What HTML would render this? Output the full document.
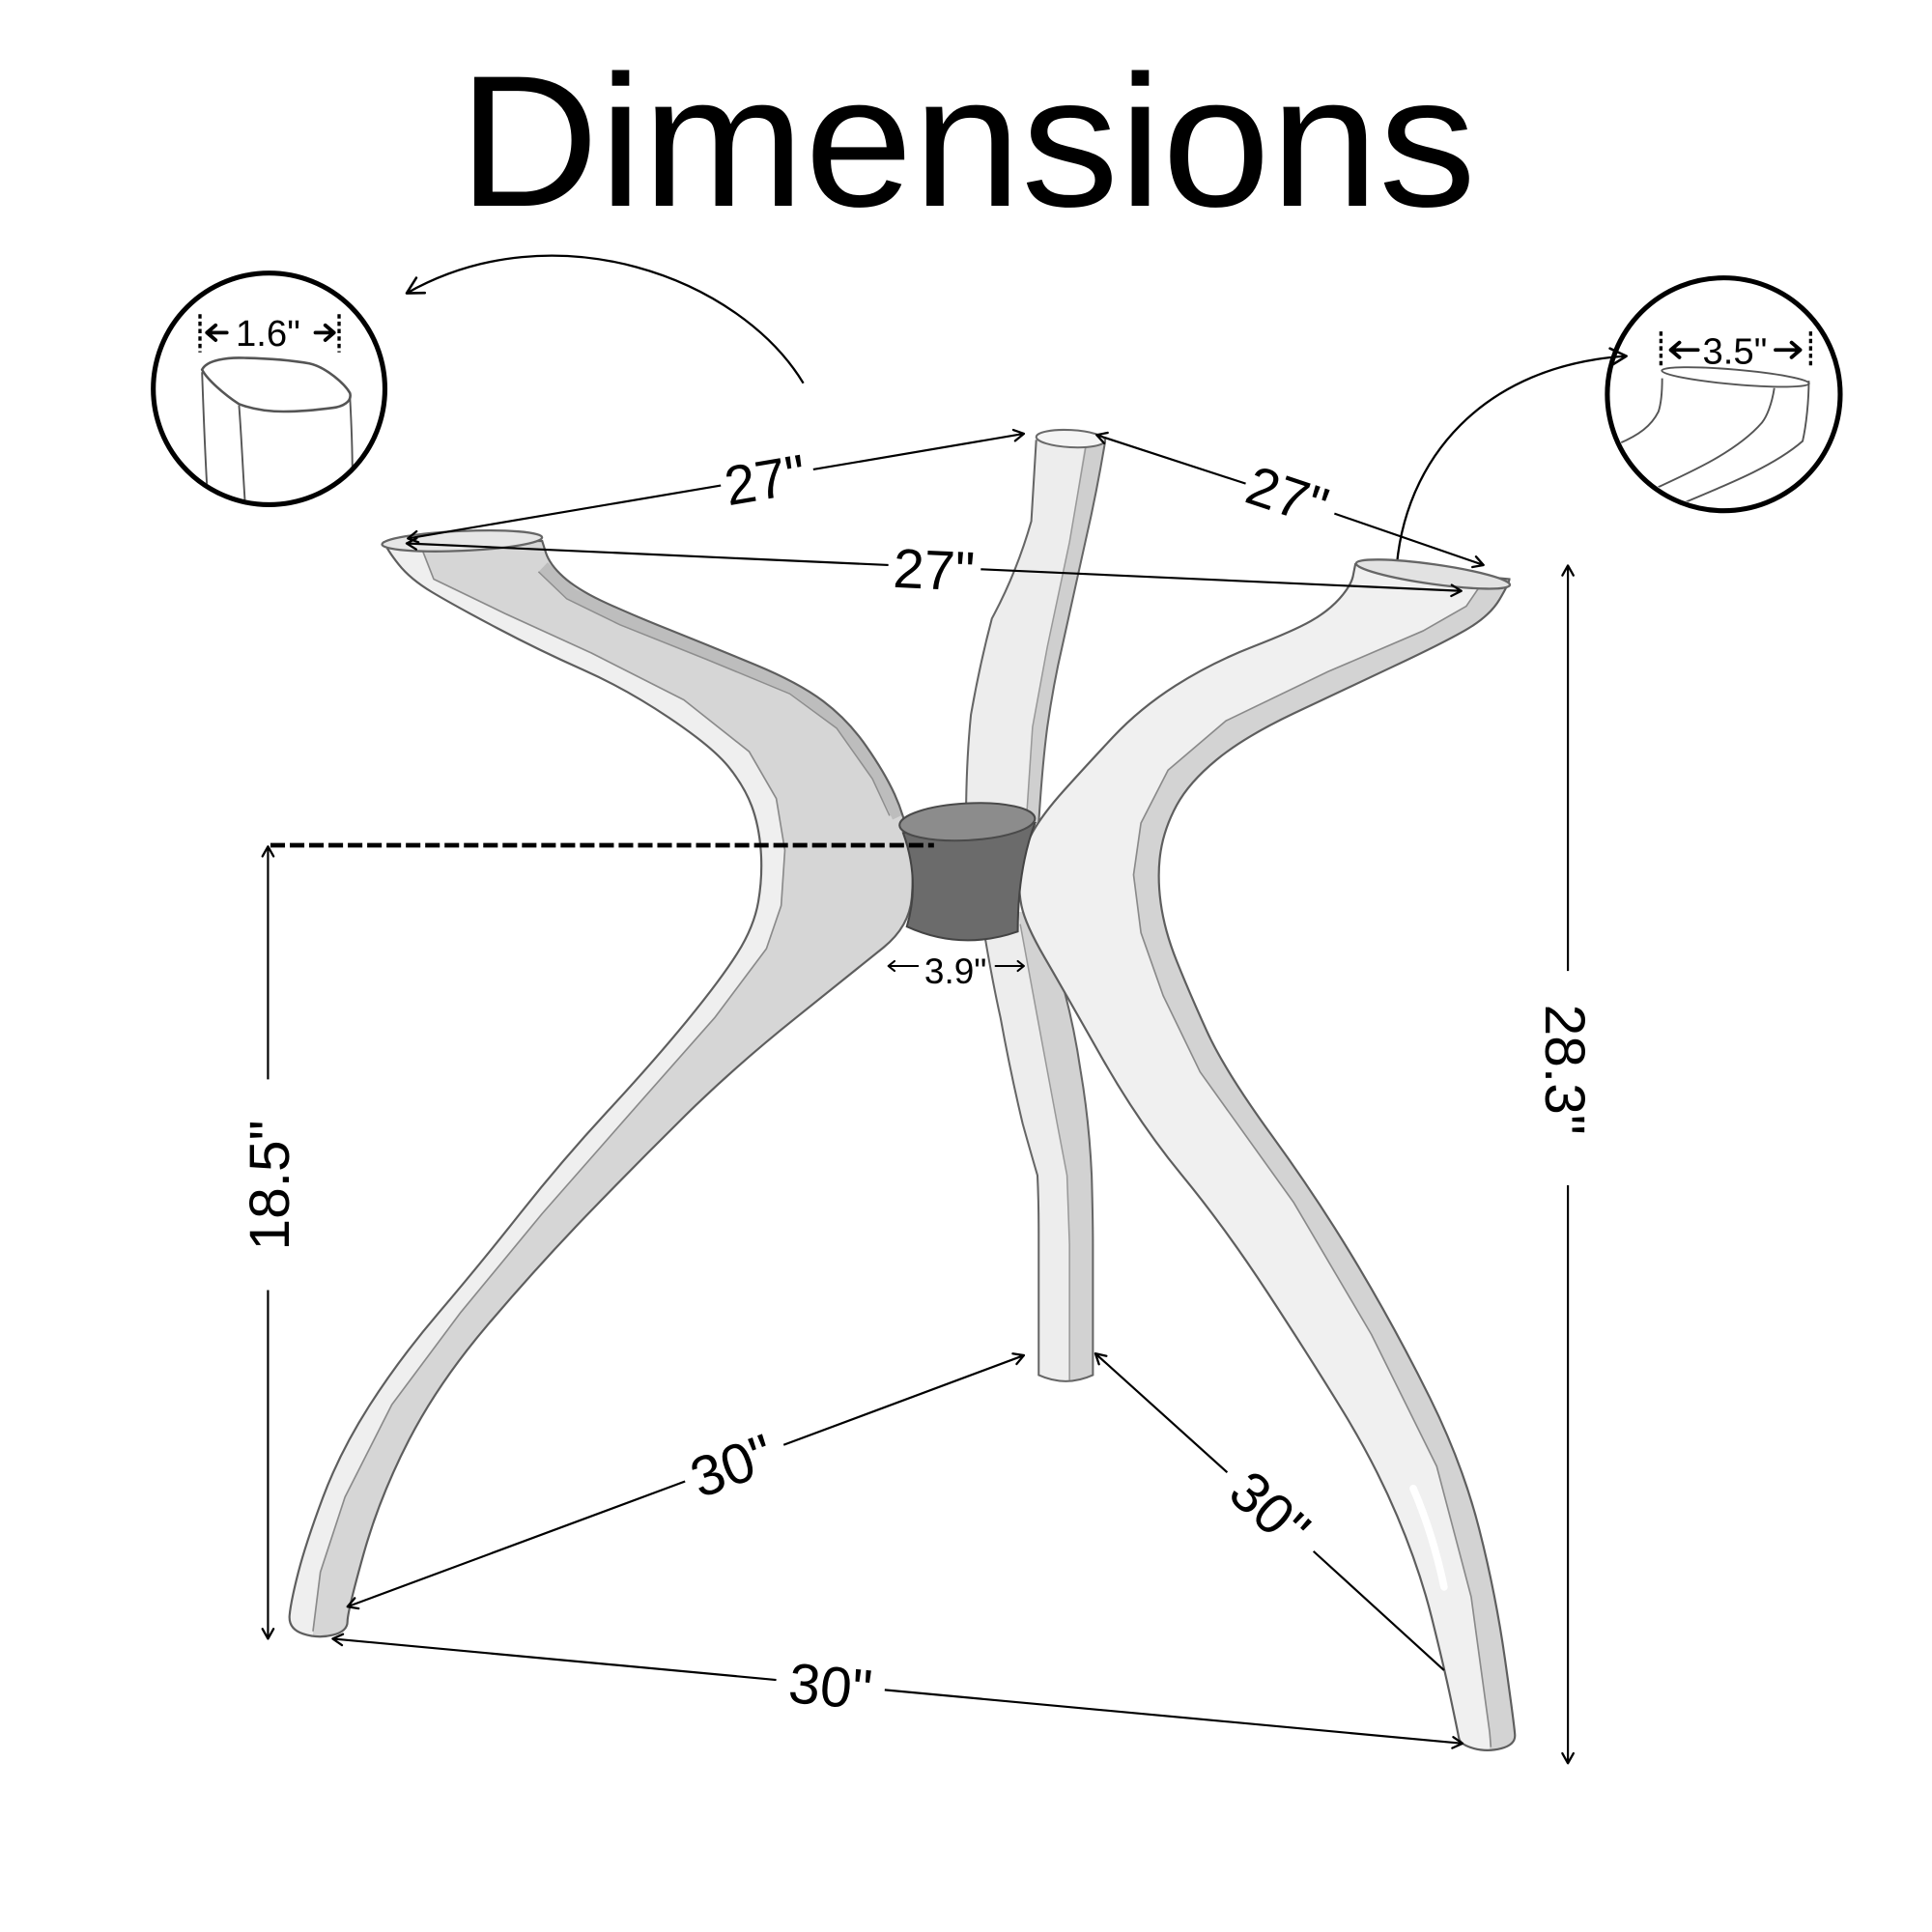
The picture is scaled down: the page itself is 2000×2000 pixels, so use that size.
<!DOCTYPE html>
<html><head><meta charset="utf-8"><style>html,body{margin:0;padding:0;background:#fff}svg{display:block}</style></head>
<body>
<svg xmlns="http://www.w3.org/2000/svg" width="2000" height="2000" viewBox="0 0 1568 1568" font-family="'Liberation Sans', Arial, sans-serif">
<defs>
  <marker id="a" viewBox="-10 -6 12 12" refX="0" refY="0" markerWidth="12" markerHeight="12" markerUnits="userSpaceOnUse" orient="auto" overflow="visible">
    <path d="M-8,-4.5 L0,0 L-8,4.5" fill="none" stroke="#000" stroke-width="1.8" stroke-linecap="round" stroke-linejoin="round"/>
  </marker>
  <marker id="b" viewBox="-16 -9 18 18" refX="0" refY="0" markerWidth="18" markerHeight="18" markerUnits="userSpaceOnUse" orient="auto" overflow="visible">
    <path d="M-13,-7 L0,0 L-13,7" fill="none" stroke="#000" stroke-width="2" stroke-linecap="round" stroke-linejoin="round"/>
  </marker>
  <path id="LP" d="M312,440 L440,439 L443,448.5 Q446,458 457,468 Q468,478 488,487.5 Q508,497 543,511 Q578,525 613,539.5 Q648,554 668,569 Q688,584 703,605.5 Q718,627 726,644.5 Q734,662 738,683.5 Q742,705 740,728.5 Q738,752 717,769 Q696,786 646,826 Q596,866 556,905.5 Q516,945 476,986.5 Q436,1028 396,1075 Q356,1122 332,1168.5 Q308,1215 295,1261.5 Q282,1308 282,1316 Q282,1324 270,1327 Q258,1330 246,1326 Q234,1322 235,1311 Q236,1300 242,1276.5 Q248,1253 262,1215.5 Q276,1178 300,1140.5 Q324,1103 356,1065.5 Q388,1028 422,985 Q456,942 493,902 Q530,862 557.5,828.5 Q585,795 598.5,773.5 Q612,752 615.5,731.5 Q619,711 617.5,690.5 Q616,670 610,654 Q604,638 591,622 Q578,606 543,582.5 Q508,559 473,543.5 Q438,528 403,509.5 Q368,491 350.5,480.5 Q333,470 323.5,458 Q314,446 312,440 Z"/>
  <path id="RP" d="M1100,458 L1098,468 Q1096,476 1087,486 Q1078,496 1064,504 Q1050,512 1016.5,525 Q983,538 954,556.5 Q925,575 903,598.5 Q881,622 863.5,641.5 Q846,661 838,675.5 Q830,690 828,705 Q826,720 829,735 Q832,750 848,777.5 Q864,805 894,858 Q924,911 959,953.5 Q994,996 1029,1049.5 Q1064,1103 1090,1145.5 Q1116,1188 1134,1230.5 Q1152,1273 1162,1313 Q1172,1353 1177.5,1379 Q1183,1405 1184,1410.5 Q1185,1416 1196,1419 Q1207,1422 1218.5,1419 Q1230,1416 1229.5,1408 Q1229,1400 1221.5,1347 Q1214,1294 1200.5,1241 Q1187,1188 1160.5,1134.5 Q1134,1081 1102.5,1028 Q1071,975 1032.5,922 Q994,869 979.5,837 Q965,805 955,780 Q945,755 942,732.5 Q939,710 942,691 Q945,672 955,653.5 Q965,635 987.5,616.5 Q1010,598 1050,579 Q1090,560 1130.5,541 Q1171,522 1190,511 Q1209,500 1217,486.5 Q1225,473 1225,470 Z"/>
  <path id="MU" d="M841,357 Q839,390 837,423 Q825,465 805,502 Q795,540 788,580 Q784,620 784,668 L843,668 Q846,620 850,590 Q855,555 862,525 Q872,480 881,439 Q890,400 897,358 Z"/>
  <path id="MUo" d="M784,668 Q784,620 788,580 Q795,540 805,502 Q825,465 837,423 Q839,390 841,357 M897,358 Q890,400 881,439 Q872,480 862,525 Q855,555 850,590 Q846,620 843,668"/>
  <path id="ML" d="M796,740 L840,740 Q857,785 864,805 Q872,835 877,869 Q884,910 886,954 Q887,990 887,1010 L887,1116 Q865,1126 843,1116 L843,1000 Q843,975 842,954 Q835,930 830,912 Q820,870 812,826 Q804,790 796,740 Z"/>
  <path id="MLo" d="M840,740 Q857,785 864,805 Q872,835 877,869 Q884,910 886,954 Q887,990 887,1010 L887,1116 Q865,1126 843,1116 L843,1000 Q843,975 842,954 Q835,930 830,912 Q820,870 812,826 Q804,790 796,740"/>
  <clipPath id="cLP"><use href="#LP"/></clipPath>
  <clipPath id="cRP"><use href="#RP"/></clipPath>
  <clipPath id="cMU"><use href="#MU"/></clipPath>
  <clipPath id="cML"><use href="#ML"/></clipPath>
  <clipPath id="cC1"><circle cx="218.4" cy="315.6" r="92"/></clipPath>
  <clipPath id="cC2"><circle cx="1399" cy="320" r="92"/></clipPath>
</defs>

<rect width="1568" height="1568" fill="#fff"/>

<!-- Title -->
<text x="785" y="167" font-size="152" text-anchor="middle" textLength="826" lengthAdjust="spacingAndGlyphs" fill="#000">Dimensions</text>

<!-- Left detail circle -->
<g clip-path="url(#cC1)" fill="none" stroke="#555" stroke-width="1.5">
  <path d="M164,300 C168,292 185,290 198,290.5 C220,291 240,293 251,295 C265,298 280,312 284,319 C286,326 278,330 270,331 C255,333 240,334 230,334 C215,334 202,331 194,328 C182,320 168,308 164,300 Z" stroke-width="2"/>
  <path d="M164,302 C165,330 166,360 168,395"/>
  <path d="M194,329 C196,355 197,380 199,410"/>
  <path d="M284,322 C285,340 286,360 286,385"/>
</g>
<circle cx="218.4" cy="315.6" r="94" fill="none" stroke="#000" stroke-width="4"/>
<g stroke="#000" fill="none">
  <line x1="162.3" y1="255" x2="162.3" y2="286" stroke-width="2.6" stroke-dasharray="3.5 2.5"/>
  <line x1="275.2" y1="255" x2="275.2" y2="286" stroke-width="2.6" stroke-dasharray="3.5 2.5"/>
  <path d="M168,270 L184,270 M175,264 L168,270 L175,276" stroke-width="3" stroke-linejoin="round" stroke-linecap="round"/>
  <path d="M256,270 L271,270 M264,264 L271,270 L264,276" stroke-width="3" stroke-linejoin="round" stroke-linecap="round"/>
</g>
<text x="217.5" y="280.5" font-size="30" text-anchor="middle" fill="#000">1.6"</text>

<!-- Right detail circle -->
<g clip-path="url(#cC2)" fill="none" stroke="#555" stroke-width="1.5">
  <ellipse cx="1408.5" cy="306" rx="60" ry="6" transform="rotate(5 1408.5 306)"/>
  <path d="M1349,307 C1349,318 1348,328 1346,334 C1340,346 1330,353 1314,360"/>
  <path d="M1440,315 C1438,328 1434,338 1430,343 C1410,366 1375,382 1340,398"/>
  <path d="M1468,309 C1468,325 1466,345 1463,358 C1440,378 1405,392 1362,410"/>
</g>
<circle cx="1399" cy="320" r="94.5" fill="none" stroke="#000" stroke-width="4"/>
<g stroke="#000" fill="none">
  <line x1="1348" y1="269" x2="1348" y2="298" stroke-width="2.6" stroke-dasharray="3.5 2.5"/>
  <line x1="1469.5" y1="269" x2="1469.5" y2="298" stroke-width="2.6" stroke-dasharray="3.5 2.5"/>
  <path d="M1356,284 L1378,284 M1363,278 L1356,284 L1363,290" stroke-width="3" stroke-linejoin="round" stroke-linecap="round"/>
  <path d="M1441,284 L1461,284 M1454,278 L1461,284 L1454,290" stroke-width="3" stroke-linejoin="round" stroke-linecap="round"/>
</g>
<text x="1408" y="295" font-size="30" text-anchor="middle" fill="#000">3.5"</text>

<!-- Curved pointer arrows -->
<path d="M652,311 C600,225 450,170 330,238" fill="none" stroke="#000" stroke-width="1.8" marker-end="url(#b)"/>
<path d="M1133,467 C1138,372 1205,296 1320,289" fill="none" stroke="#000" stroke-width="1.8" marker-end="url(#b)"/>

<!-- Middle (back) leg -->
<use href="#MU" fill="#ededed"/>
<polygon clip-path="url(#cMU)" points="882,350 868,440 850,525 838,590 833,670 905,670 905,350" fill="#cfcfcf"/>
<polyline points="882,358 868,440 850,525 838,590 833,665" fill="none" stroke="#999" stroke-width="1.2"/>
<use href="#MUo" fill="none" stroke="#666" stroke-width="1.6"/>
<ellipse cx="869" cy="356" rx="28" ry="7" transform="rotate(3 869 356)" fill="#f4f4f4" stroke="#6a6a6a" stroke-width="1.6"/>

<use href="#ML" fill="#ededed"/>
<polygon clip-path="url(#cML)" points="826,740 842,826 858,912 866,954 868,1010 868,1130 900,1130 900,740" fill="#d2d2d2"/>
<polyline points="828,750 842,826 858,912 866,954 868,1010 868,1120" fill="none" stroke="#999" stroke-width="1.2"/>
<use href="#MLo" fill="none" stroke="#666" stroke-width="1.6"/>

<!-- Left piece -->
<use href="#LP" fill="#d6d6d6"/>
<polygon clip-path="url(#cLP)" points="0,430 343,447 352,470 410,498 480,530 555,568 608,610 630,648 637,690 634,735 622,770 580,826 512,903 440,985 374,1065 318,1140 280,1215 260,1276 254,1322 254,1345 0,1345" fill="#efefef"/>
<polyline clip-path="url(#cLP)" points="441,460 464,482 505,502 575,530 644,558 683,587 713,630 729,663" fill="none" stroke="#bdbdbd" stroke-width="10"/>
<polyline points="437,464 460,486 503,507 573,535 641,563 679,591 708,632 722,662" fill="none" stroke="#8e8e8e" stroke-width="1.2"/>
<polyline points="343,447 352,470 410,498 480,530 555,568 608,610 630,648 637,690 634,735 622,770 580,826 512,903 440,985 374,1065 318,1140 280,1215 260,1276 254,1324" fill="none" stroke="#8a8a8a" stroke-width="1.3" stroke-linejoin="round"/>
<use href="#LP" fill="none" stroke="#5e5e5e" stroke-width="1.7"/>
<ellipse cx="375" cy="439" rx="65" ry="8" transform="rotate(-2.5 375 439)" fill="#e6e6e6" stroke="#666" stroke-width="1.8"/>

<!-- Right piece -->
<use href="#RP" fill="#f0f0f0"/>
<polygon clip-path="url(#cRP)" points="1240,460 1240,1432 1209,1432 1209,1406 1194,1296 1166,1190 1113,1083 1050,976 974,870 944,808 926,757 920,710 926,668 948,625 995,585 1078,545 1155,512 1190,492 1205,470 1215,460" fill="#d3d3d3"/>
<polyline points="1205,470 1190,492 1155,512 1078,545 995,585 948,625 926,668 920,710 926,757 944,808 974,870 1050,976 1113,1083 1166,1190 1194,1296 1209,1406 1210,1418" fill="none" stroke="#8a8a8a" stroke-width="1.3" stroke-linejoin="round"/>
<path d="M1147,1208 Q1163,1245 1172,1288" fill="none" stroke="#fff" stroke-width="6" stroke-linecap="round"/>
<use href="#RP" fill="none" stroke="#5e5e5e" stroke-width="1.7"/>
<ellipse cx="1163" cy="466" rx="63" ry="8" transform="rotate(8 1163 466)" fill="#e2e2e2" stroke="#666" stroke-width="1.8"/>

<!-- Hub -->
<path d="M733,676 Q747,715 736,752 Q780,772 826,756 Q826,705 840,668 Z" fill="#6b6b6b" stroke="#444" stroke-width="1.6"/>
<ellipse cx="785" cy="667" rx="55" ry="15" transform="rotate(-3 785 667)" fill="#8c8c8c" stroke="#4a4a4a" stroke-width="1.6"/>

<!-- Dashed reference line -->
<line x1="219.5" y1="686" x2="758" y2="686" stroke="#000" stroke-width="3.7" stroke-dasharray="11.8 3.9"/>

<!-- Dimension lines -->
<g stroke="#000" stroke-width="1.7" fill="none">
  <line x1="585" y1="394" x2="331" y2="437" marker-end="url(#a)"/>
  <line x1="660" y1="381" x2="831" y2="352" marker-end="url(#a)"/>
  <line x1="1011" y1="392.5" x2="890" y2="353" marker-end="url(#a)"/>
  <line x1="1083" y1="416.8" x2="1204" y2="458.6" marker-end="url(#a)"/>
  <line x1="721" y1="458.6" x2="330" y2="441" marker-end="url(#a)"/>
  <line x1="796" y1="462" x2="1186" y2="479.6" marker-end="url(#a)"/>
  <line x1="556" y1="1202.3" x2="282" y2="1304" marker-end="url(#a)"/>
  <line x1="636" y1="1172.7" x2="831" y2="1100" marker-end="url(#a)"/>
  <line x1="996" y1="1195" x2="889" y2="1098.5" marker-end="url(#a)"/>
  <line x1="1066" y1="1259" x2="1172" y2="1355.6"/>
  <line x1="630" y1="1363.4" x2="270" y2="1330" marker-end="url(#a)"/>
  <line x1="718" y1="1371.5" x2="1187" y2="1415" marker-end="url(#a)"/>
  <line x1="217.5" y1="876" x2="217.5" y2="687" marker-end="url(#a)"/>
  <line x1="217.5" y1="1047" x2="217.5" y2="1330" marker-end="url(#a)"/>
  <line x1="1272.5" y1="788" x2="1272.5" y2="459" marker-end="url(#a)"/>
  <line x1="1272.5" y1="962" x2="1272.5" y2="1431" marker-end="url(#a)"/>
  <path d="M745,784 L721,784 M726,780 L721,784 L726,788" stroke-width="1.6" stroke-linecap="round" stroke-linejoin="round"/>
  <path d="M808,784 L831,784 M826,780 L831,784 L826,788" stroke-width="1.6" stroke-linecap="round" stroke-linejoin="round"/>
</g>

<!-- Dimension labels -->
<g fill="#000" text-anchor="middle">
  <text transform="translate(621,389) rotate(-9.6)" y="16" font-size="45">27"</text>
  <text transform="translate(1045,402) rotate(18.4)" y="16" font-size="45">27"</text>
  <text transform="translate(758,462) rotate(2.6)" y="16" font-size="45">27"</text>
  <text transform="translate(594,1189) rotate(-20.35)" y="16.5" font-size="46">30"</text>
  <text transform="translate(1031,1225) rotate(42.3)" y="16.5" font-size="46">30"</text>
  <text transform="translate(674,1368) rotate(5.3)" y="16.5" font-size="46">30"</text>
  <text transform="translate(218,962) rotate(-90)" y="16.5" font-size="46">18.5"</text>
  <text transform="translate(1271,868) rotate(90)" y="16.5" font-size="46">28.3"</text>
  <text x="775.5" y="798" font-size="29">3.9"</text>
</g>
</svg>
</body></html>
